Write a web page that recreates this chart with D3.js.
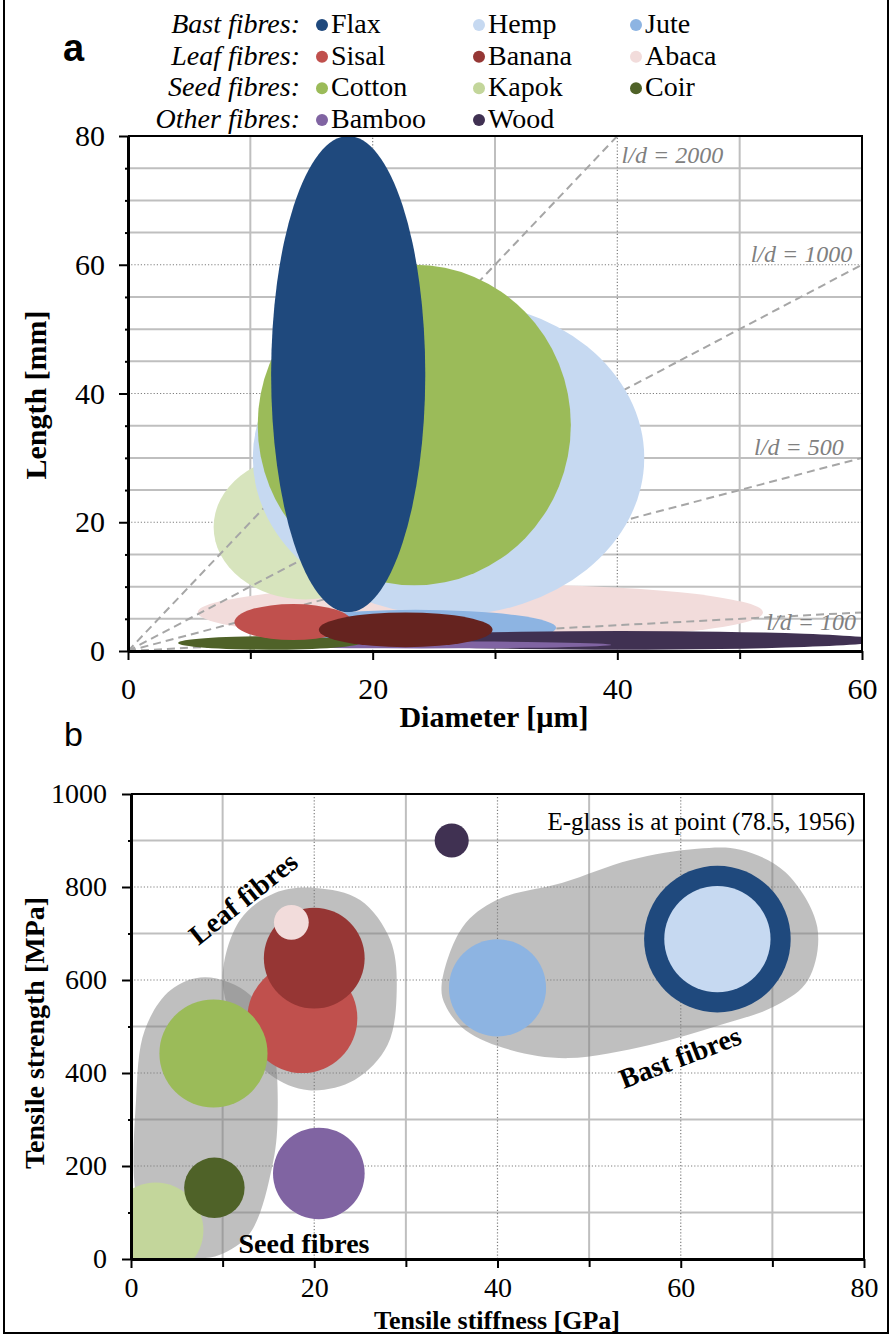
<!DOCTYPE html>
<html>
<head>
<meta charset="utf-8">
<script src="https://cdn.jsdelivr.net/npm/d3@7"></script>
<style>
  body { margin: 0; background: #fff; }
  svg { display: block; }
</style>
</head>
<body>
<svg id="fig" width="890" height="1334"></svg>
<script>
// fibre list, same order everywhere
const fibres = ['Flax', 'Hemp', 'Jute', 'Sisal', 'Banana', 'Abaca', 'Cotton', 'Kapok', 'Coir', 'Bamboo', 'Wood'];
const legendColour = ['#1F497D', '#C6D9F1', '#8DB4E2', '#C0504D', '#953735', '#F2DCDB', '#9BBB59', '#C3D69B', '#4F6228', '#8064A2', '#403152'];
const colourA = ['#1F497D', '#C6D9F1', '#8DB4E2', '#C0504D', '#65231F', '#F2DCDB', '#9BBB59', '#D7E4BD', '#4F6228', '#8064A2', '#403152'];
const colourB = ['#1F497D', '#C6D9F1', '#8DB4E2', '#C0504D', '#963634', '#F2DCDB', '#9BBB59', '#C3D69B', '#4F6228', '#8064A2', '#403152'];

const groupLabels = ['Bast fibres:', 'Leaf fibres:', 'Seed fibres:', 'Other fibres:'];
const groupMembers = [['Flax', 'Hemp', 'Jute'], ['Sisal', 'Banana', 'Abaca'], ['Cotton', 'Kapok', 'Coir'], ['Bamboo', 'Wood']];

// panel a: diameter range [µm] and length range [mm]
const diamMin = [11.7, 10.2, 12.0, 8.7, 15.6, 5.7, 10.6, 7.0, 4.1, 8.5, 19.0];
const diamMax = [24.3, 42.2, 35.0, 18.3, 29.8, 51.9, 36.2, 22.0, 19.0, 39.5, 61.5];
const lenMin = [6.0, 5.5, 0.8, 1.7, 0.6, 1.6, 10.2, 8.0, 0.2, 0.4, 0.2];
const lenMax = [80.0, 54.5, 6.4, 7.3, 6.0, 10.4, 60.0, 30.5, 2.3, 1.5, 3.1];
const orderBack = ['Abaca', 'Kapok'];
const orderFront = ['Hemp', 'Cotton', 'Flax', 'Jute', 'Wood', 'Bamboo', 'Coir', 'Sisal', 'Banana'];
const aspectRatios = [2000, 1000, 500, 100];
const ratioLabel = ['l/d = 2000', 'l/d = 1000', 'l/d = 500', 'l/d = 100'];

// panel b: stiffness [GPa], strength [MPa], bubble size (in GPa units)
const stiffness = [64.0, 64.0, 40.0, 18.7, 20.0, 17.5, 9.0, 2.7, 9.1, 20.5, 35.0];
const strength = [688, 688, 583, 518, 647, 724, 442, 62, 153, 184, 900];
const bubble = [8.0, 5.8, 5.3, 6.0, 5.5, 1.9, 5.9, 5.2, 3.3, 5.0, 1.86];
const orderB = ['Kapok', 'Coir', 'Sisal', 'Banana', 'Abaca', 'Cotton', 'Bamboo', 'Jute', 'Flax', 'Hemp', 'Wood'];

// group outlines in panel b, [stiffness, strength]
const seedOutline = [[8.1, 606], [13.0, 568], [15.4, 471], [16.0, 305], [15.4, 198], [13.0, 56], [9.7, 9], [7.0, 2],
  [3.2, 19], [0.65, 127], [0.55, 342], [1.5, 492], [4.3, 578]];
const leafOutline = [[20.1, 798], [25.0, 772], [28.3, 686], [29.0, 578], [28.0, 460], [24.4, 385], [19.4, 363],
  [15.2, 396], [11.9, 482], [10.0, 600], [11.9, 729], [15.7, 787]];
const bastOutline = [[33.9, 589], [36.2, 714], [39.9, 772], [47.1, 809], [54.5, 858], [61.8, 882], [66.5, 880],
  [71.4, 832], [74.9, 714], [73.9, 600], [70.5, 546], [64.3, 503], [56.6, 460], [47.7, 432], [41.5, 449],
  [36.5, 492], [34.3, 546]];

const xTicksA = [0, 20, 40, 60];
const yTicksA = [0, 20, 40, 60, 80];
const xTicksB = [0, 20, 40, 60, 80];
const yTicksB = [0, 200, 400, 600, 800, 1000];

const SERIF = '"Liberation Serif", "Times New Roman", Times, serif';
const SANS = '"Liberation Sans", Arial, sans-serif';

const svg = d3.select('#fig');
const idx = name => fibres.indexOf(name);

// outer frame
svg.append('path').attr('d', 'M4,0V1333H888V0')
  .attr('fill', 'none').attr('stroke', '#000').attr('stroke-width', 2);

// scales
const xA = d3.scaleLinear().domain([0, 60]).range([128, 862]);
const yA = d3.scaleLinear().domain([0, 80]).range([651, 136]);
const xB = d3.scaleLinear().domain([0, 80]).range([131, 864]);
const yB = d3.scaleLinear().domain([0, 1000]).range([1259, 794]);

function grid(x, y, vSolid, vDot, hSolid, hDot) {
  const g = svg.append('g');
  const [x0, x1] = x.range(), [y0, y1] = y.range();
  g.selectAll('.vs').data(vSolid).join('line')
    .attr('x1', d => x(d)).attr('x2', d => x(d)).attr('y1', y0).attr('y2', y1)
    .attr('stroke', '#BFBFBF').attr('stroke-width', 2);
  g.selectAll('.hs').data(hSolid).join('line')
    .attr('y1', d => y(d)).attr('y2', d => y(d)).attr('x1', x0).attr('x2', x1)
    .attr('stroke', '#BFBFBF').attr('stroke-width', 2);
  g.selectAll('.vd').data(vDot).join('line')
    .attr('x1', d => x(d)).attr('x2', d => x(d)).attr('y1', y0).attr('y2', y1)
    .attr('stroke', '#7F7F7F').attr('stroke-width', 1.2).attr('stroke-dasharray', '1.2,2');
  g.selectAll('.hd').data(hDot).join('line')
    .attr('y1', d => y(d)).attr('y2', d => y(d)).attr('x1', x0).attr('x2', x1)
    .attr('stroke', '#7F7F7F').attr('stroke-width', 1.2).attr('stroke-dasharray', '1.2,2');
}

function clip(id, x, y) {
  const [x0, x1] = x.range(), [y0, y1] = y.range();
  svg.append('clipPath').attr('id', id).append('rect')
    .attr('x', x0).attr('y', y1).attr('width', x1 - x0).attr('height', y0 - y1);
}

function axes(x, y, cfg) {
  const [x0, x1] = x.range(), [y0, y1] = y.range();
  // top and right border
  svg.append('path').attr('d', `M${x0},${y1}H${x1}V${y0}`)
    .attr('fill', 'none').attr('stroke', '#000').attr('stroke-width', 2);

  const bx = svg.append('g').attr('transform', `translate(0,${y0})`)
    .call(d3.axisBottom(x).tickValues(cfg.xMinor).tickSize(8).tickSizeOuter(0).tickFormat(''));
  bx.select('.domain').remove();
  bx.selectAll('line').attr('stroke-width', 2);

  const bxl = svg.append('g').attr('transform', `translate(0,${y0})`)
    .call(d3.axisBottom(x).tickValues(cfg.xMajor).tickSize(9).tickSizeOuter(0)
      .tickPadding(cfg.xPad).tickFormat(d3.format('d')));
  bxl.select('.domain').attr('stroke-width', 3);
  bxl.selectAll('line').attr('stroke-width', 2);
  bxl.selectAll('text').attr('font-family', SERIF).attr('font-size', cfg.font).attr('fill', '#000');

  const ly = svg.append('g').attr('transform', `translate(${x0},0)`)
    .call(d3.axisLeft(y).tickValues(cfg.yMinor).tickSize(3).tickSizeOuter(0).tickFormat(''));
  ly.select('.domain').remove();
  ly.selectAll('line').attr('stroke-width', 2);

  const lyl = svg.append('g').attr('transform', `translate(${x0},0)`)
    .call(d3.axisLeft(y).tickValues(cfg.yMajor).tickSize(9).tickSizeOuter(0)
      .tickPadding(cfg.yPad).tickFormat(d3.format('d')));
  lyl.select('.domain').attr('stroke-width', 3);
  lyl.selectAll('line').attr('stroke-width', 2);
  lyl.selectAll('text').attr('font-family', SERIF).attr('font-size', cfg.font).attr('fill', '#000');
}

function label(x, y, str, opt = {}) {
  return svg.append('text')
    .attr('transform', `translate(${x},${y})` + (opt.rotate ? ` rotate(${opt.rotate})` : ''))
    .attr('text-anchor', opt.anchor || 'start')
    .attr('dy', opt.dy || null)
    .attr('font-family', opt.family || SERIF)
    .attr('font-size', opt.size || 28)
    .attr('font-weight', opt.bold ? 'bold' : 'normal')
    .attr('font-style', opt.italic ? 'italic' : 'normal')
    .attr('fill', opt.fill || '#000')
    .text(str);
}

// ---------- panel a ----------
label(63, 61, 'a', { family: SANS, bold: true, size: 38 });

// legend
const colX = d3.scaleLinear().domain([0, 2]).range([322, 636]);
const rowY = d3.scaleLinear().domain([0, 3]).range([25, 120]);
const legend = svg.append('g');
groupLabels.forEach((lab, r) => {
  label(300, rowY(r) + 8, lab, { anchor: 'end', italic: true, size: 28 });
  groupMembers[r].forEach((f, c) => {
    legend.append('circle').attr('cx', colX(c)).attr('cy', rowY(r)).attr('r', 6)
      .attr('fill', legendColour[idx(f)]);
    label(colX(c) + 9, rowY(r) + 8, f, { size: 28 });
  });
});

grid(xA, yA, [10, 30, 50], [20, 40],
  d3.range(5, 80, 5).filter(v => v % 20 !== 0), [20, 40, 60]);
clip('clipA', xA, yA);

const plotA = svg.append('g').attr('clip-path', 'url(#clipA)');
function ellipses(names) {
  plotA.append('g').selectAll('ellipse').data(names).join('ellipse')
    .attr('cx', f => xA((diamMin[idx(f)] + diamMax[idx(f)]) / 2))
    .attr('cy', f => yA((lenMin[idx(f)] + lenMax[idx(f)]) / 2))
    .attr('rx', f => (xA(diamMax[idx(f)]) - xA(diamMin[idx(f)])) / 2)
    .attr('ry', f => (yA(lenMin[idx(f)]) - yA(lenMax[idx(f)])) / 2)
    .attr('fill', f => colourA[idx(f)]);
}
ellipses(orderBack);
// constant aspect ratio lines l/d, l in mm, d in µm
plotA.append('g').selectAll('line').data(aspectRatios).join('line')
  .attr('x1', xA(0)).attr('y1', yA(0))
  .attr('x2', r => xA(Math.min(60, 80 * 1000 / r)))
  .attr('y2', r => yA(Math.min(60, 80 * 1000 / r) * r / 1000))
  .attr('stroke', '#A6A6A6').attr('stroke-width', 2).attr('stroke-dasharray', '8,5');
ellipses(orderFront);

axes(xA, yA, {
  xMajor: xTicksA, xMinor: [10, 30, 50], yMajor: yTicksA, yMinor: d3.range(5, 80, 5).filter(v => v % 20 !== 0),
  xPad: 18, yPad: 14, font: 30
});

// ratio labels
const ratioPos = [[40.35, 75.8, 'start'], [59.2, 60.4, 'end'], [58.5, 30.4, 'end'], [59.5, 3.3, 'end']];
ratioLabel.forEach((t, i) => {
  label(xA(ratioPos[i][0]), yA(ratioPos[i][1]), t, { anchor: ratioPos[i][2], italic: true, size: 24, fill: '#808080' });
});

label(46, 395, 'Length [mm]', { rotate: -90, anchor: 'middle', bold: true, size: 30 });
label(494, 727, 'Diameter [µm]', { anchor: 'middle', bold: true, size: 30 });

// ---------- panel b ----------
label(64, 746, 'b', { family: SANS, size: 34 });

grid(xB, yB, [10, 30, 50, 70], [20, 40, 60], [100, 300, 500, 700, 900], [200, 400, 600, 800]);
clip('clipB', xB, yB);
const plotB = svg.append('g').attr('clip-path', 'url(#clipB)');

const outline = d3.line().x(d => xB(d[0])).y(d => yB(d[1])).curve(d3.curveCatmullRomClosed.alpha(0.5));
plotB.append('g').selectAll('path').data([seedOutline, leafOutline, bastOutline]).join('path')
  .attr('d', outline).attr('fill', '#808080').attr('fill-opacity', 0.5);

const rB = d3.scaleLinear().domain([0, 10]).range([0, xB(10) - xB(0)]);
plotB.append('g').selectAll('circle').data(orderB).join('circle')
  .attr('cx', f => xB(stiffness[idx(f)]))
  .attr('cy', f => yB(strength[idx(f)]))
  .attr('r', f => rB(bubble[idx(f)]))
  .attr('fill', f => colourB[idx(f)]);

axes(xB, yB, {
  xMajor: xTicksB, xMinor: [10, 30, 50, 70], yMajor: yTicksB, yMinor: [100, 300, 500, 700, 900],
  xPad: 9, yPad: 15, font: 28
});

label(855, 830, 'E-glass is at point (78.5, 1956)', { anchor: 'end', size: 25 });
label(243, 898, 'Leaf fibres', { rotate: -38.5, anchor: 'middle', dy: '0.35em', bold: true, size: 28 });
label(680, 1057, 'Bast fibres', { rotate: -21, anchor: 'middle', dy: '0.35em', bold: true, size: 28 });
label(304, 1253, 'Seed fibres', { anchor: 'middle', bold: true, size: 28 });

label(44, 1033, 'Tensile strength [MPa]', { rotate: -90, anchor: 'middle', bold: true, size: 28 });
label(497, 1329, 'Tensile stiffness [GPa]', { anchor: 'middle', bold: true, size: 26 });
</script>
</body>
</html>
